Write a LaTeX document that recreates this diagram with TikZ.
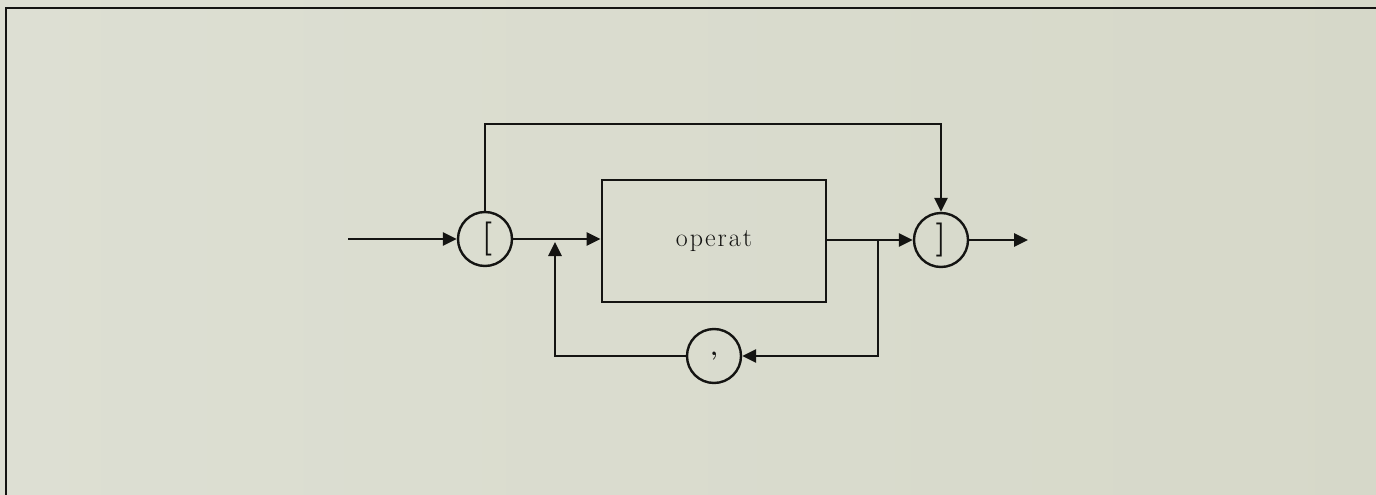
\documentclass[tikz,border=0pt]{standalone}
\usepackage{fontspec}
\usetikzlibrary{arrows.meta,calc}
\definecolor{bgL}{RGB}{221,223,211}
\definecolor{bgR}{RGB}{204,206,186}
\definecolor{ink}{RGB}{20,20,18}
\newcommand{\lsp}{\hspace{2pt}}
\tikzset{
  conn/.style={draw=ink,line width=2.8pt},
  arr/.style={conn,-{Triangle[length=14pt,width=13pt]}},
  term/.style={circle,draw=ink,line width=2.4pt,minimum size=54pt,inner sep=0pt,text=ink},
  nonterm/.style={rectangle,draw=ink,line width=2.8pt,minimum width=224pt,minimum height=122pt,inner sep=0pt,text=ink},
}
\begin{document}
\begin{tikzpicture}[x=1pt,y=-1pt]
\useasboundingbox (0,0) rectangle (1376,495);
\shade[left color=bgL,right color=bgL!60!bgR] (0,0) rectangle (1376,495);
% frame
\draw[ink,line width=2.4pt] (6,495) -- (6,8) -- (1376,8);
% nodes
\coordinate (s) at (348,239);
\node[term] (lb) at (485,239) {\fontsize{34}{34}\selectfont\bfseries\raisebox{1pt}{\hspace{4pt}[}};
\node[nonterm] (op) at (714,241) {\fontsize{26}{28}\selectfont o\lsp p\lsp e\lsp r\lsp a\lsp t};
\node[term] (rb) at (941,240) {\fontsize{34}{34}\selectfont\bfseries\raisebox{-3pt}{]}};
\node[term] (cm) at (714,356) {\fontsize{24}{24}\selectfont\bfseries\raisebox{1pt}{,}};
\coordinate (e) at (1028,240);
\coordinate (j1) at (555,239);
\coordinate (j2) at (878,240);
\coordinate (tl) at (485,124);
% connectors
\draw[arr] (s) -- (lb);
\draw[arr] (lb) -- (op.west |- lb);
\draw[arr] (op.east |- rb) -- (rb);
\draw[arr] (rb) -- (e);
\draw[arr] (lb.north) -- (tl) -| (rb.north);
\draw[arr] (j2) |- (cm);
\draw[arr] (cm) -| ($(j1)+(0,3)$);
\end{tikzpicture}
\end{document}
